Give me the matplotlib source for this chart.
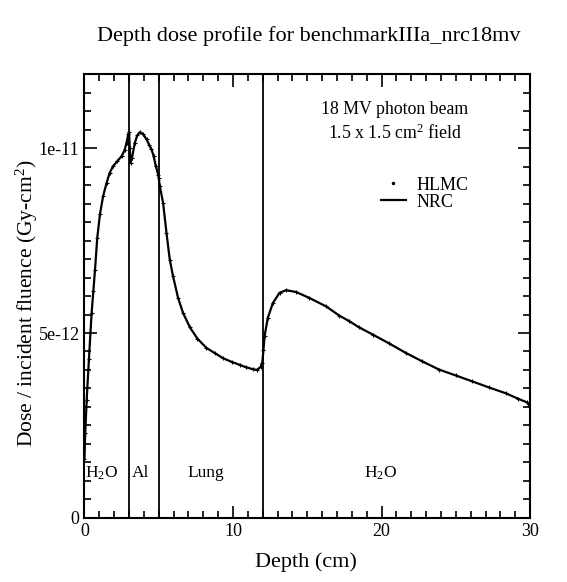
import matplotlib
matplotlib.use("Agg")
import matplotlib.pyplot as plt
import numpy as np
from matplotlib.ticker import MultipleLocator, FixedLocator, FixedFormatter

plt.rcParams['font.family'] = ['Liberation Serif', 'DejaVu Serif']
plt.rcParams['mathtext.fontset'] = 'custom'
plt.rcParams['mathtext.rm'] = 'Liberation Serif'
plt.rcParams['mathtext.it'] = 'Liberation Serif:italic'

# depth in cm, dose per incident fluence in units of 1e-12 Gy cm^2
depth = [0.0, 0.05, 0.15, 0.3, 0.48, 0.6, 0.71, 0.86, 1.04, 1.25, 1.49, 1.7,
         1.93, 2.2, 2.5, 2.7, 2.83, 2.95, 3.0, 3.05, 3.1, 3.2, 3.39, 3.55,
         3.73, 3.95, 4.18, 4.35, 4.51, 4.65, 4.8, 4.96, 5.0, 5.07, 5.29, 5.52,
         5.74, 5.96, 6.3, 6.64, 7.1, 7.6, 8.2, 8.8, 9.32, 9.9, 10.44, 10.9,
         11.34, 11.6, 11.85, 11.97, 12.05, 12.12, 12.34, 12.68, 13.13, 13.58,
         14.25, 15.14, 16.27, 17.16, 17.83, 18.5, 19.4, 20.5, 21.64, 22.7,
         23.87, 25.0, 26.11, 27.2, 28.35, 29.2, 29.8, 30.0]
dose = [1.6, 2.3, 3.2, 4.3, 5.54, 6.15, 6.72, 7.58, 8.21, 8.7, 9.07, 9.34,
        9.52, 9.65, 9.79, 9.95, 10.15, 10.38, 10.45, 10.0, 9.6, 9.75, 10.15,
        10.35, 10.44, 10.38, 10.24, 10.1, 9.97, 9.8, 9.52, 9.29, 9.2, 8.98,
        8.53, 7.71, 6.99, 6.54, 5.95, 5.54, 5.15, 4.85, 4.6, 4.45, 4.32, 4.22,
        4.14, 4.07, 4.02, 4.0, 4.08, 4.2, 4.55, 4.91, 5.41, 5.81, 6.09, 6.16,
        6.11, 5.95, 5.72, 5.47, 5.32, 5.15, 4.96, 4.72, 4.46, 4.24, 4.01,
        3.85, 3.69, 3.53, 3.37, 3.22, 3.12, 3.0]

boundaries = [3, 5, 12]
regions = ["H$_2$O", "Al", "Lung", "H$_2$O"]
region_x = [0.05, 3.2, 8.2, 19.9]
region_ha = ["left", "left", "center", "center"]

depth = np.array(depth)
dose = np.array(dose) * 1e-12

fig = plt.figure(figsize=(5.67, 5.82), dpi=100)
ax = fig.add_axes([0.149, 0.1105, 0.786, 0.7615])

ax.plot(depth, dose, "-", color="black", lw=1.6, label="NRC")
ax.plot(depth, dose, "+", color="black", ms=3.5, mew=0.8)
# legend marker for HLMC
ax.plot([], [], ".", color="black", ms=3, label="HLMC")

for b in boundaries:
    ax.axvline(b, color="black", lw=1.3)

for name, x, ha in zip(regions, region_x, region_ha):
    ax.text(x, 1.2e-12, name, ha=ha, va="center", fontsize=12.5)

ax.text(20.9, 11.05e-12, "18 MV photon beam", ha="center", va="center", fontsize=12.8)
ax.text(20.9, 10.4e-12, "1.5 x 1.5 cm$^2$ field", ha="center", va="center", fontsize=12.8)

handles, labels = ax.get_legend_handles_labels()
ax.legend([handles[1], handles[0]], [labels[1], labels[0]],
          loc="upper left", bbox_to_anchor=(0.644, 0.79), frameon=False,
          fontsize=13, handlelength=1.4, handletextpad=0.6, labelspacing=0.0,
          borderpad=0)

ax.set_xlim(0, 30)
ax.set_ylim(0, 1.2e-11)
ax.xaxis.set_major_locator(MultipleLocator(10))
ax.xaxis.set_minor_locator(MultipleLocator(1))
ax.yaxis.set_major_locator(FixedLocator([0, 5e-12, 1e-11]))
ax.yaxis.set_major_formatter(FixedFormatter(["0", "5e-12", "1e-11"]))
ax.yaxis.set_minor_locator(MultipleLocator(5e-13))
ax.tick_params(which="both", direction="in", top=True, right=True, width=1.2,
               labelsize=13)
ax.tick_params(which="major", length=9)
ax.tick_params(which="minor", length=5)
for s in ax.spines.values():
    s.set_linewidth(1.5)

ax.set_xlabel("Depth (cm)", fontsize=16)
ax.set_ylabel("Dose / incident fluence (Gy-cm$^2$)", fontsize=15.5)
ax.xaxis.set_label_coords(0.497, -0.078)
ax.yaxis.set_label_coords(-0.1, 0.484)
fig.text(0.545, 1 - 36 / 582, "Depth dose profile for benchmarkIIIa_nrc18mv",
         ha="center", va="center", fontsize=16)

fig.savefig("out.png", dpi=100)
